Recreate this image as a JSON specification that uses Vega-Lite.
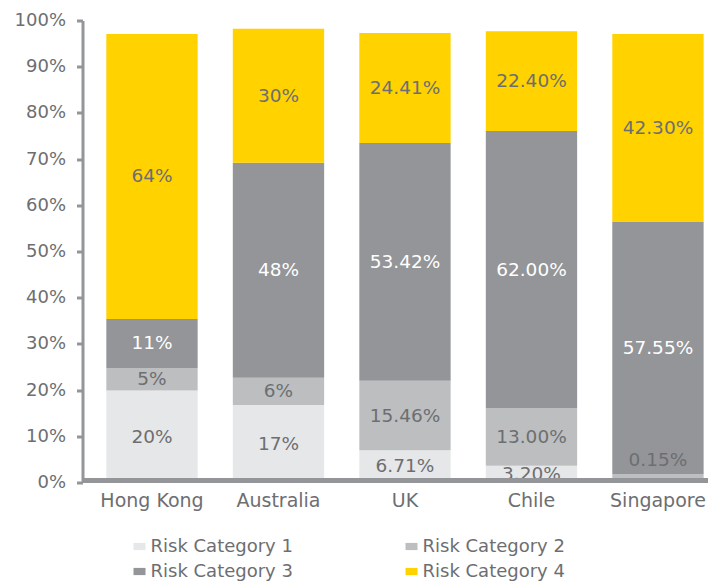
{
  "$schema": "https://vega.github.io/schema/vega-lite/v6.json",
  "width": 625,
  "height": 462,
  "autosize": {"type": "none"},
  "padding": {"left": 82.5, "top": 20.5, "right": 0.5, "bottom": 100},
  "background": "white",
  "config": {"view": {"stroke": null}, "font": "DejaVu Sans"},
  "data": {
    "values": [
      {"country": "Hong Kong", "category": "Risk Category 1", "value": 19.9, "label": "20%"},
      {"country": "Hong Kong", "category": "Risk Category 2", "value": 4.9, "label": "5%"},
      {"country": "Hong Kong", "category": "Risk Category 3", "value": 10.6, "label": "11%"},
      {"country": "Hong Kong", "category": "Risk Category 4", "value": 61.7, "label": "64%"},
      {"country": "Australia", "category": "Risk Category 1", "value": 16.8, "label": "17%"},
      {"country": "Australia", "category": "Risk Category 2", "value": 5.9, "label": "6%"},
      {"country": "Australia", "category": "Risk Category 3", "value": 46.5, "label": "48%"},
      {"country": "Australia", "category": "Risk Category 4", "value": 29.0, "label": "30%"},
      {"country": "UK", "category": "Risk Category 1", "value": 7.0, "label": "6.71%"},
      {"country": "UK", "category": "Risk Category 2", "value": 15.0, "label": "15.46%"},
      {"country": "UK", "category": "Risk Category 3", "value": 51.5, "label": "53.42%"},
      {"country": "UK", "category": "Risk Category 4", "value": 23.8, "label": "24.41%"},
      {"country": "Chile", "category": "Risk Category 1", "value": 3.6, "label": "3.20%"},
      {"country": "Chile", "category": "Risk Category 2", "value": 12.5, "label": "13.00%"},
      {"country": "Chile", "category": "Risk Category 3", "value": 60.0, "label": "62.00%"},
      {"country": "Chile", "category": "Risk Category 4", "value": 21.6, "label": "22.40%"},
      {"country": "Singapore", "category": "Risk Category 2", "value": 1.8, "label": "0.15%"},
      {"country": "Singapore", "category": "Risk Category 3", "value": 54.7, "label": "57.55%"},
      {"country": "Singapore", "category": "Risk Category 4", "value": 40.6, "label": "42.30%"}
    ]
  },
  "encoding": {
    "x": {
      "field": "country",
      "type": "nominal",
      "sort": ["Hong Kong", "Australia", "UK", "Chile", "Singapore"],
      "scale": {"paddingInner": 0.278, "paddingOuter": 0.1095, "align": 0.86},
      "axis": {
        "title": null,
        "labelAngle": 0,
        "ticks": false,
        "tickSize": 0,
        "domainColor": "#939598",
        "domainWidth": 5,
        "labelFont": "DejaVu Sans",
        "labelFontSize": 19,
        "labelColor": "#6d6e71",
        "labelPadding": 11,
        "offset": -2.5,
        "zindex": 1
      }
    },
    "y": {
      "field": "value",
      "type": "quantitative",
      "stack": "zero",
      "scale": {"domain": [0, 100], "nice": false},
      "axis": {
        "title": null,
        "values": [0, 10, 20, 30, 40, 50, 60, 70, 80, 90, 100],
        "labelExpr": "datum.value + '%'",
        "grid": false,
        "domainColor": "#939598",
        "domainWidth": 3,
        "tickColor": "#939598",
        "tickWidth": 3,
        "tickSize": 6,
        "labelFont": "DejaVu Sans",
        "labelFontSize": 18,
        "labelColor": "#6d6e71",
        "labelPadding": 11,
        "zindex": 1
      }
    },
    "order": {"field": "category", "type": "nominal", "sort": "ascending"}
  },
  "layer": [
    {
      "mark": {"type": "bar"},
      "encoding": {
        "color": {
          "field": "category",
          "type": "nominal",
          "scale": {
            "domain": ["Risk Category 1", "Risk Category 2", "Risk Category 3", "Risk Category 4"],
            "range": ["#e6e7e8", "#bcbec0", "#939598", "#ffd200"]
          },
          "legend": {
            "orient": "none",
            "legendX": 48,
            "legendY": 517,
            "direction": "horizontal",
            "columns": 2,
            "columnPadding": 109,
            "rowPadding": 7,
            "symbolType": "M-1,-0.6H1V0.6H-1Z",
            "symbolSize": 144,
            "symbolStrokeWidth": 0,
            "symbolOpacity": 1,
            "labelFont": "DejaVu Sans",
            "labelFontSize": 18,
            "labelColor": "#6d6e71",
            "labelOffset": 2,
            "labelLimit": 300,
            "title": null,
            "padding": 0
          }
        }
      }
    },
    {
      "mark": {"type": "text", "fontSize": 18.5, "font": "DejaVu Sans", "baseline": "middle"},
      "encoding": {
        "detail": {"field": "category", "type": "nominal"},
        "text": {
          "condition": {"test": "datum.value < 2", "value": ""},
          "field": "label",
          "type": "nominal"
        },
        "y": {"field": "value", "type": "quantitative", "stack": "zero", "bandPosition": 0.5},
        "color": {
          "condition": {"test": "datum.category === 'Risk Category 3'", "value": "#ffffff"},
          "value": "#6d6e71"
        }
      }
    },
    {
      "transform": [{"filter": "datum.value < 2"}],
      "mark": {"type": "text", "fontSize": 18.5, "font": "DejaVu Sans", "baseline": "middle", "dy": -18, "color": "#6d6e71"},
      "encoding": {
        "detail": {"field": "category", "type": "nominal"},
        "text": {"field": "label", "type": "nominal"},
        "y": {"field": "value", "type": "quantitative", "stack": "zero", "bandPosition": 0.5}
      }
    }
  ]
}
